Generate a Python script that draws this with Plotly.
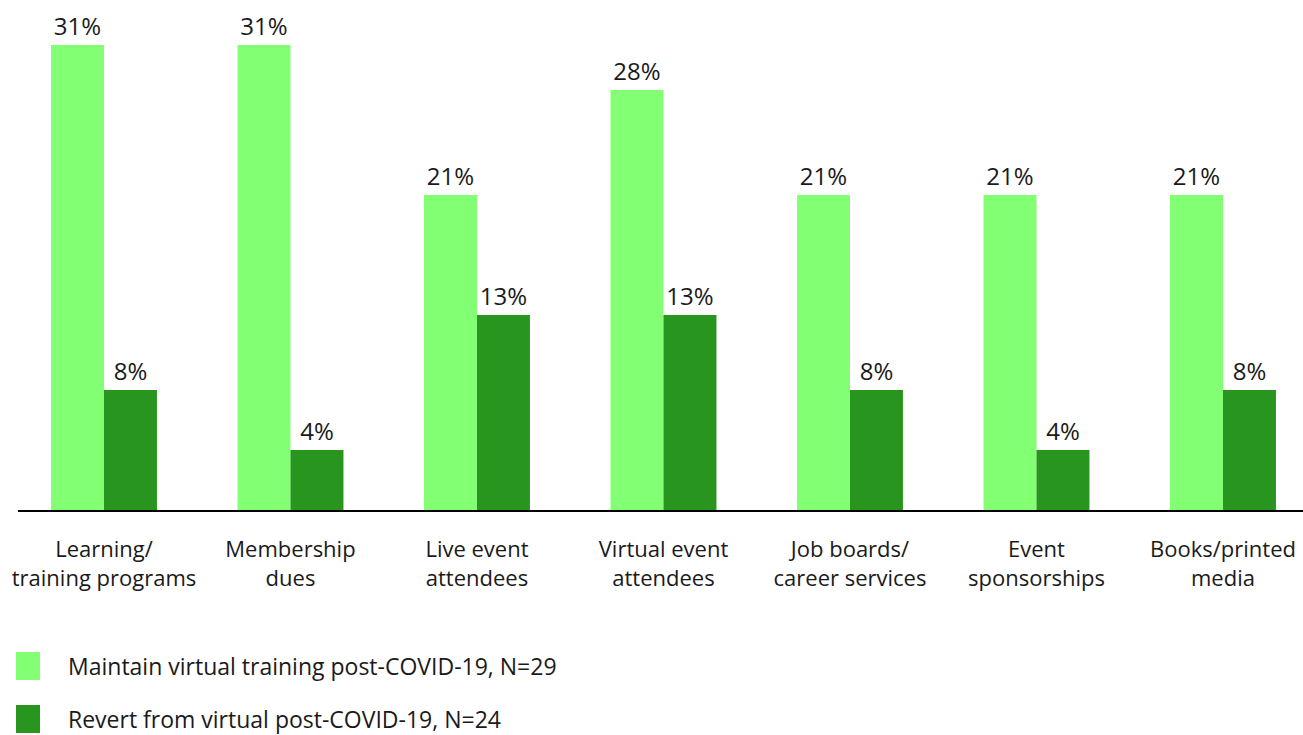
import plotly.graph_objects as go

categories = [
    "Learning/<br>training programs",
    "Membership<br>dues",
    "Live event<br>attendees",
    "Virtual event<br>attendees",
    "Job boards/<br>career services",
    "Event<br>sponsorships",
    "Books/printed<br>media",
]
maintain_values = [31, 31, 21, 28, 21, 21, 21]
revert_values = [8, 4, 13, 13, 8, 4, 8]
series_names = [
    "Maintain virtual training post-COVID-19, N=29",
    "Revert from virtual post-COVID-19, N=24",
]
colors = ["#82FF73", "#28961E"]

FONT = "Open Sans"
TEXT = "#1a1a1a"

W, H = 1303, 735
ML, MB = 18, 225
PLOT_W, PLOT_H = W - ML, H - MB

x = list(range(len(categories)))

fig = go.Figure()
for name, vals, col in zip(series_names, [maintain_values, revert_values], colors):
    fig.add_trace(go.Bar(
        x=x, y=vals, name=name,
        marker=dict(color=col, line=dict(width=0)),
        text=[f"{v}%" for v in vals],
        textposition="outside",
        textfont=dict(family=FONT, size=24, color=TEXT),
        cliponaxis=False,
        showlegend=False,
    ))

# legend drawn as large swatches with labels below the plot
legend_py = [666, 719]
for py, name, col in zip(legend_py, series_names, colors):
    yc = (PLOT_H - py) / PLOT_H
    fig.add_shape(type="rect", xref="paper", yref="paper",
                  x0=(16 - ML) / PLOT_W, x1=(40 - ML) / PLOT_W,
                  y0=yc - 14 / PLOT_H, y1=yc + 14 / PLOT_H,
                  fillcolor=col, line=dict(width=0))
    fig.add_annotation(xref="paper", yref="paper",
                       x=(66 - ML) / PLOT_W, y=yc, text=name, showarrow=False,
                       xanchor="left", yanchor="middle",
                       font=dict(family=FONT, size=23, color=TEXT))

fig.update_layout(
    width=W, height=H,
    margin=dict(l=ML, r=0, t=0, b=MB),
    paper_bgcolor="white", plot_bgcolor="white",
    barmode="group", bargap=0.432, bargroupgap=0,
    font=dict(family=FONT, color=TEXT),
    xaxis=dict(
        range=[-0.461, 6.429],
        tickmode="array", tickvals=x, ticktext=categories,
        tickfont=dict(family=FONT, size=22, color=TEXT),
        showline=True, linecolor="black", linewidth=2,
        showgrid=False, zeroline=False, ticks="",
        ticklabelstandoff=19,
    ),
    yaxis=dict(range=[0, 34], visible=False, showgrid=False, zeroline=False),
)

fig.write_html("out.html")
